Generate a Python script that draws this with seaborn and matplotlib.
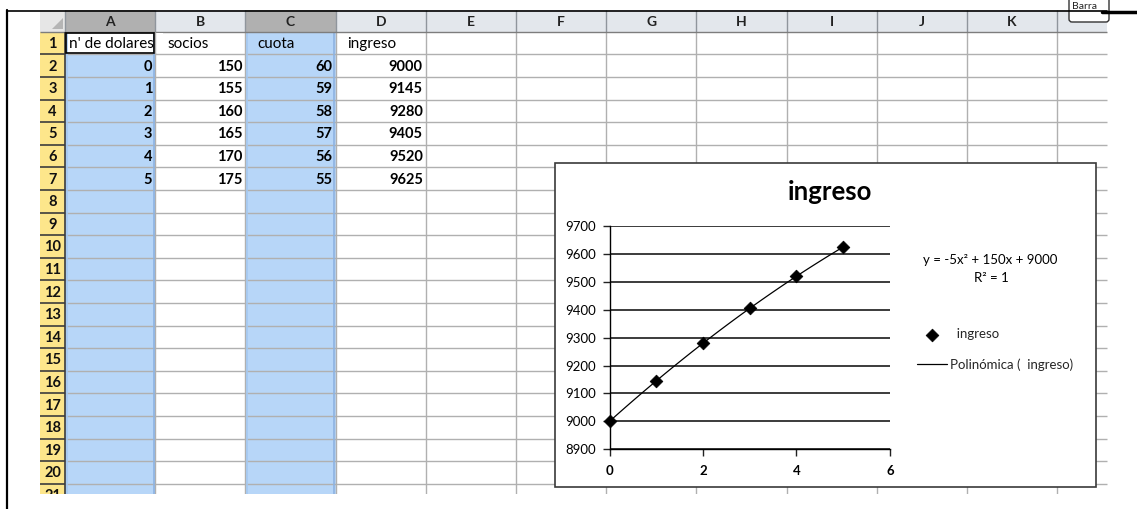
import numpy as np
import pandas as pd
import matplotlib.pyplot as plt
import matplotlib.patches as mpatches
import seaborn as sns

# datos de la hoja
dolares = [0, 1, 2, 3, 4, 5]
socios = [150, 155, 160, 165, 170, 175]
cuota = [60, 59, 58, 57, 56, 55]
ingreso = [9000, 9145, 9280, 9405, 9520, 9625]
encabezados = ["n' de dolares", "socios", "cuota", "ingreso"]
letras = list("ABCDEFGHIJK")
filas = list(range(1, 22))
yticks = list(range(8900, 9800, 100))
xticks = [0, 2, 4, 6]

df = pd.DataFrame({'dolares': dolares, 'socios': socios,
                   'cuota': cuota, 'ingreso': ingreso})

sns.set_theme(style='white')
plt.rcParams['font.family'] = ['Lato', 'DejaVu Sans']

W, H = 1137, 509
fig = plt.figure(figsize=(W / 100, H / 100), dpi=100)
hoja = fig.add_axes([0, 0, 1, 1])
hoja.set_xlim(0, W)
hoja.set_ylim(H, 0)
hoja.axis('off')

# geometria de la hoja en pixeles
x_fila0, x_col0, ancho, x_fin = 40, 65, 90.2, 1107
y_cab, y_fila0, alto, y_fin = 10, 31.7, 22.6, 494
bordes_x = [x_col0 + ancho * i for i in range(len(letras) + 1)] + [x_fin]
bordes_y = [y_fila0 + alto * i for i in range(len(filas))] + [y_fin]
fs_hoja = 10.5
fs = 9.5


def caja(x0, y0, x1, y1, **kw):
    hoja.add_patch(mpatches.Rectangle((x0, y0), x1 - x0, y1 - y0, **kw))


# fondos
caja(x_col0, y_cab, x_fin, y_fila0, fc='#e3e7ec', ec='none')
for c in [0, 2]:
    caja(bordes_x[c], y_cab, bordes_x[c + 1], y_fila0, fc='#b0b0b0', ec='none')
caja(x_fila0, y_cab, x_col0, y_fila0, fc='#e6e6e6', ec='none')
hoja.add_patch(mpatches.Polygon([(52, 29), (63, 29), (63, 18)], fc='#b5b5b5', ec='none'))
caja(x_fila0, y_fila0, x_col0, y_fin, fc='#fde68b', ec='none')
caja(bordes_x[0], bordes_y[1], bordes_x[1], y_fin, fc='#b7d6f8', ec='none')
caja(bordes_x[2], bordes_y[0], bordes_x[3], y_fin, fc='#b7d6f8', ec='none')

# lineas de la cuadricula
hoja.hlines(bordes_y[1:-1], x_col0, x_fin, color='#b0b0b0', lw=1)
hoja.vlines(bordes_x[1:-1], y_fila0, y_fin, color='#b0b0b0', lw=1)
hoja.vlines([bordes_x[1] - 1.5, bordes_x[3] - 1.5], y_fila0, y_fin, color='#8db3e2', lw=1.2)
hoja.vlines([bordes_x[0] + 1.5, bordes_x[2] + 1.5], y_fila0, y_fin, color='#a5c8f0', lw=1.2)
hoja.vlines(bordes_x[:-1], y_cab, y_fila0, color='#8f959c', lw=1)
hoja.hlines(y_fila0, x_fila0, x_fin, color='#7d7d7d', lw=1)
hoja.hlines(bordes_y[1:-1], x_fila0, x_col0, color='#3c3c3c', lw=1.2)
hoja.vlines(x_col0, y_fila0, y_fin, color='#3c3c3c', lw=1.2)

for i, l in enumerate(letras):
    hoja.text((bordes_x[i] + bordes_x[i + 1]) / 2, (y_cab + y_fila0) / 2 + 1, l,
              ha='center', va='center', fontsize=fs_hoja - 0.5, weight='bold', color='#222222')
for i, f in enumerate(filas):
    hoja.text((x_fila0 + x_col0) / 2, bordes_y[i] + alto / 2 + 1, str(f),
              ha='center', va='center', fontsize=fs_hoja, weight='bold', color='#111111')

# textos de las celdas
columnas = [dolares, socios, cuota, ingreso]
for c, (nombre, valores) in enumerate(zip(encabezados, columnas)):
    sangria = 4 if c == 0 else 12
    hoja.text(bordes_x[c] + sangria, bordes_y[0] + alto / 2 + 1, nombre,
              ha='left', va='center', fontsize=fs_hoja + 0.5, color='black')
    for r, v in enumerate(valores):
        hoja.text(bordes_x[c + 1] - 3, bordes_y[r + 1] + alto / 2 + 1, str(v),
                  ha='right', va='center', fontsize=fs_hoja, weight='bold', color='black')

# celda activa A1: el texto queda cortado en el borde derecho
caja(bordes_x[1] - 1, bordes_y[0] + 1, bordes_x[1] + 8, bordes_y[1] - 1, fc='white', ec='none', zorder=5)
hoja.vlines(bordes_x[1], bordes_y[0], bordes_y[1], color='#b0b0b0', lw=1, zorder=5.5)
caja(bordes_x[0] + 1, bordes_y[0] + 1.5, bordes_x[1] - 1.5, bordes_y[1] - 1,
     fc='none', ec='black', lw=1.2, zorder=6)

# la captura se corta en la fila 21
caja(8.5, y_fin, x_fin + 2, H + 2, fc='white', ec='none', zorder=5)

# marco negro exterior
hoja.plot([7, 7], [10, H], color='black', lw=1.6, zorder=6)
hoja.plot([7, x_fin], [10.5, 10.5], color='black', lw=1.2)
hoja.plot([x_fin - 5, W], [11.5, 11.5], color='black', lw=2.5)

# boton "Barra"
hoja.add_patch(mpatches.FancyBboxPatch((1069, -6), 40, 28, boxstyle='round,pad=0,rounding_size=3',
                                       fc='white', ec='#333333', lw=1))
hoja.text(1072, 1.5, 'Barra', ha='left', va='top', fontsize=7.5, color='#222222')

# recuadro del grafico
caja(555, 163, 1096, 487, fc='white', ec='#3a3a3a', lw=1.2, zorder=5.2)
hoja.text(830, 192, 'ingreso', ha='center', va='center', fontsize=18.5, weight='bold',
          color='black', zorder=6)
hoja.text(990, 260, 'y = -5x² + 150x + 9000', ha='center', va='center', fontsize=fs,
          color='black', zorder=6)
hoja.text(991, 278, 'R² = 1', ha='center', va='center', fontsize=fs, color='black', zorder=6)

# grafico de dispersion con linea de tendencia polinomica
ax = fig.add_axes([609.5 / W, 1 - 449.3 / H, (890 - 609.5) / W, (449.3 - 226) / H])
ax.set_facecolor('none')
sns.regplot(data=df, x='dolares', y='ingreso', order=2, ci=None, scatter=False, ax=ax,
            color='black', label='Polinómica (  ingreso)', line_kws=dict(lw=0.9))
sns.scatterplot(data=df, x='dolares', y='ingreso', marker='D', color='black', s=42,
                ax=ax, label='  ingreso', zorder=4, clip_on=False, edgecolor='black')

ax.set_xlim(0, 6)
ax.set_ylim(8900, 9700)
ax.set_xticks(xticks)
ax.set_yticks(yticks)
ax.set_xlabel('')
ax.set_ylabel('')
ax.grid(False)
ax.yaxis.grid(True, color='#1a1a1a', lw=1.2)
for s in ['top', 'right']:
    ax.spines[s].set_visible(False)
for s in ['left', 'bottom']:
    ax.spines[s].set_color('black')
    ax.spines[s].set_linewidth(1.0)
ax.tick_params(axis='both', direction='out', length=5, width=1, color='#222222',
               labelsize=fs, labelcolor='black')
ax.tick_params(axis='y', left=True, pad=5)
ax.tick_params(axis='x', bottom=True, pad=6)
for t in ax.get_xticklabels():
    t.set_fontweight('bold')

handles, labels = ax.get_legend_handles_labels()
orden = [labels.index('  ingreso'), labels.index('Polinómica (  ingreso)')]
ax.legend([handles[i] for i in orden], [labels[i] for i in orden],
          loc='upper left', bbox_to_anchor=(917 / W, 1 - 328 / H), bbox_transform=fig.transFigure,
          frameon=False, fontsize=fs, handlelength=2.3, handletextpad=0.2,
          labelspacing=1.4, borderpad=0, borderaxespad=0)

fig.savefig('out.png', dpi=100)
